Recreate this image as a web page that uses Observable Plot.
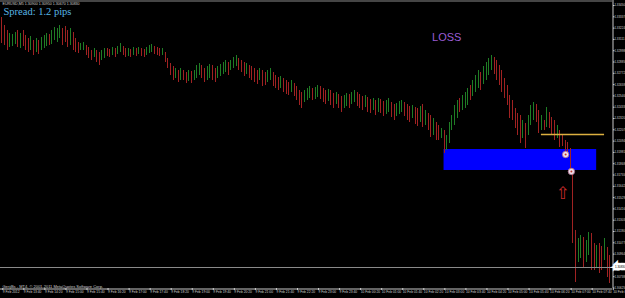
<!DOCTYPE html>
<html><head><meta charset="utf-8">
<script src="https://cdn.jsdelivr.net/npm/d3@7"></script>
<script src="https://cdn.jsdelivr.net/npm/@observablehq/plot@0.6"></script>
<style>html,body{margin:0;padding:0;background:#000;overflow:hidden}</style>
</head><body><div id="chart"></div>
<script>
const symbolLabel = "EURUSD,M5";
const lastQuote = ["1.30900", "1.30950", "1.30670", "1.30830"];
const spreadText = "Spread: 1.2 pips";
const copyrightText = "GerijBs - MT4, © 2001-2011 MetaQuotes Software Corp.";
const startTime = "2012-02-09T13:00:00Z";
const barMinutes = 5;

const highs = [
1.3333,1.3325,1.3320,1.3317,1.3316,1.3318,1.3320,1.3317,
1.3320,1.3315,1.3312,1.3314,1.3310,1.3312,1.3310,1.3313,
1.3315,1.3317,1.3316,1.3320,1.3323,1.3322,1.3325,1.3322,
1.3324,1.3320,1.3322,1.3318,1.3312,1.3308,1.3307,1.3308,
1.3305,1.3303,1.3300,1.3302,1.3300,1.3298,1.3300,1.3302,
1.3302,1.3301,1.3303,1.3302,1.3304,1.3307,1.3304,1.3302,
1.3302,1.3301,1.3303,1.3302,1.3303,1.3302,1.3301,1.3303,
1.3305,1.3306,1.3304,1.3303,1.3302,1.3302,1.3298,1.3292,
1.3287,1.3284,1.3282,1.3280,1.3282,1.3280,1.3278,1.3280,
1.3279,1.3280,1.3285,1.3287,1.3285,1.3282,1.3284,1.3286,
1.3285,1.3282,1.3284,1.3286,1.3288,1.3290,1.3288,1.3290,
1.3293,1.3295,1.3292,1.3290,1.3288,1.3287,1.3285,1.3284,
1.3282,1.3280,1.3282,1.3280,1.3278,1.3280,1.3282,1.3278,
1.3275,1.3273,1.3274,1.3272,1.3270,1.3268,1.3270,1.3267,
1.3264,1.3260,1.3258,1.3260,1.3262,1.3264,1.3262,1.3263,
1.3265,1.3264,1.3262,1.3260,1.3261,1.3260,1.3257,1.3258,
1.3256,1.3254,1.3255,1.3257,1.3256,1.3258,1.3260,1.3258,
1.3256,1.3254,1.3255,1.3253,1.3251,1.3252,1.3250,1.3252,
1.3251,1.3249,1.3250,1.3252,1.3248,1.3246,1.3247,1.3249,
1.3250,1.3248,1.3246,1.3244,1.3245,1.3243,1.3242,1.3244,
1.3246,1.3240,1.3237,1.3235,1.3232,1.3228,1.3225,1.3222,
1.3220,1.3215,1.3228,1.3235,1.3245,1.3250,1.3252,1.3255,
1.3258,1.3262,1.3265,1.3270,1.3275,1.3280,1.3278,1.3284,
1.3288,1.3292,1.3295,1.3293,1.3290,1.3285,1.3280,1.3272,
1.3265,1.3255,1.3250,1.3242,1.3237,1.3235,1.3230,1.3227,
1.3235,1.3245,1.3248,1.3246,1.3240,1.3235,1.3230,1.3243,
1.3238,1.3233,1.3230,1.3225,1.3220,1.3215,1.3210,1.3208,
1.3202,1.3182,1.3120,1.3112,1.3115,1.3113,1.3110,1.3118,
1.3117,1.3107,1.3105,1.3107,1.3104,1.3112,1.3103,1.3095];

const lows = [
1.3307,1.3305,1.3300,1.3303,1.3304,1.3306,1.3303,1.3302,
1.3304,1.3300,1.3298,1.3300,1.3295,1.3298,1.3296,1.3300,
1.3302,1.3304,1.3305,1.3306,1.3310,1.3308,1.3312,1.3305,
1.3308,1.3303,1.3305,1.3300,1.3298,1.3297,1.3300,1.3300,
1.3295,1.3292,1.3290,1.3293,1.3288,1.3285,1.3290,1.3292,
1.3294,1.3293,1.3295,1.3293,1.3296,1.3298,1.3295,1.3293,
1.3294,1.3293,1.3295,1.3294,1.3296,1.3294,1.3293,1.3295,
1.3297,1.3298,1.3296,1.3295,1.3294,1.3295,1.3288,1.3282,
1.3275,1.3270,1.3272,1.3268,1.3270,1.3270,1.3267,1.3269,
1.3267,1.3270,1.3272,1.3275,1.3272,1.3268,1.3270,1.3272,
1.3270,1.3268,1.3272,1.3274,1.3276,1.3278,1.3275,1.3280,
1.3282,1.3284,1.3280,1.3278,1.3274,1.3276,1.3272,1.3270,
1.3268,1.3266,1.3270,1.3264,1.3265,1.3268,1.3270,1.3264,
1.3262,1.3260,1.3262,1.3258,1.3256,1.3255,1.3258,1.3254,
1.3250,1.3245,1.3242,1.3248,1.3250,1.3252,1.3250,1.3251,
1.3253,1.3251,1.3248,1.3246,1.3249,1.3245,1.3242,1.3246,
1.3242,1.3238,1.3242,1.3244,1.3242,1.3246,1.3248,1.3244,
1.3242,1.3240,1.3243,1.3238,1.3237,1.3240,1.3235,1.3238,
1.3237,1.3234,1.3236,1.3238,1.3233,1.3230,1.3234,1.3236,
1.3238,1.3234,1.3230,1.3228,1.3232,1.3226,1.3224,1.3228,
1.3223,1.3225,1.3220,1.3213,1.3215,1.3210,1.3210,1.3212,
1.3197,1.3200,1.3207,1.3220,1.3225,1.3232,1.3238,1.3240,
1.3242,1.3245,1.3250,1.3254,1.3258,1.3262,1.3260,1.3266,
1.3270,1.3275,1.3280,1.3276,1.3270,1.3265,1.3258,1.3252,
1.3245,1.3232,1.3230,1.3222,1.3215,1.3207,1.3212,1.3202,
1.3215,1.3225,1.3230,1.3228,1.3217,1.3220,1.3220,1.3223,
1.3222,1.3215,1.3210,1.3212,1.3203,1.3204,1.3198,1.3195,
1.3180,1.3107,1.3068,1.3088,1.3092,1.3083,1.3088,1.3095,
1.3080,1.3080,1.3082,1.3077,1.3080,1.3090,1.3073,1.3067];

// u = up bar, d = down bar
const directions = [
"ddduuudu","dddududu","uuduuuud","dduddduu","dddudduu","dduduudd","udududdu","uudddudd",
"ddududdu","duuudduu","dduuuudu","uudddudd","ddudduud","ddudddud","ddduuudu","uddduddu",
"dduuduud","dduddudu","dduudduu","uddduddu","dudduddu","duuuuudu","uuduuudu","uuuddddd",
"ddddddud","uuuddudu","dddudddd","ddduuduu","dduddudd"].join("");

const timeTickLabels = [
"9 Feb 2012","9 Feb 13:40","9 Feb 14:20","9 Feb 15:00","9 Feb 15:40","9 Feb 16:20",
"9 Feb 17:00","9 Feb 17:40","9 Feb 18:20","9 Feb 19:00","9 Feb 19:40","9 Feb 20:20",
"9 Feb 21:00","9 Feb 21:40","9 Feb 22:20","9 Feb 23:00","9 Feb 23:40","10 Feb 00:20",
"10 Feb 01:00","10 Feb 01:40","10 Feb 02:20","10 Feb 03:00","10 Feb 03:40","10 Feb 04:20",
"10 Feb 05:00","10 Feb 05:40","10 Feb 06:20","10 Feb 07:00","10 Feb 07:40","10 Feb 08:20"];
const timeTickMinutes = 40;

// the label near the bid price is hidden behind the bid box, as in the terminal
const priceTicks = [1.33450,1.33337,1.33224,1.33111,1.32998,1.32885,1.32772,1.32659,1.32546,
1.32433,1.32320,1.32207,1.32094,1.31981,1.31868,1.31755,1.31642,1.31529,1.31416,1.31303,
1.31190,1.31077,1.30964,1.30738,1.30625];

const zone = {start: "2012-02-10T03:00:00Z", end: "2012-02-10T07:50:00Z", top: 1.3201, bottom: 1.3180};
const level = {start: "2012-02-10T06:05:00Z", end: "2012-02-10T08:05:00Z", price: 1.3216};
const trades = [{time: "2012-02-10T06:51:00Z", price: 1.3196}, {time: "2012-02-10T07:02:00Z", price: 1.3179}];
const signal = {time: "2012-02-10T06:46:00Z", price: 1.3157};
const lossNote = {text: "LOSS", time: "2012-02-10T03:05:00Z", price: 1.3313};
const bid = 1.3083;
const priceDomain = [1.3062, 1.3350];
const timeDomain = ["2012-02-09T12:57:09Z", "2012-02-10T08:20:06Z"];

const t0 = Date.parse(startTime);
const bars = highs.map((h, i) => ({
  time: new Date(t0 + i * barMinutes * 60000), high: h, low: lows[i], dir: directions[i]
}));
const tickTimes = timeTickLabels.map((_, k) => new Date(t0 + k * timeTickMinutes * 60000));
const labelByTime = new Map(tickTimes.map((t, k) => [+t, timeTickLabels[k]]));
const T = s => new Date(s);
const fmt5 = d3.format(".5f");

const chart = Plot.plot({
  width: 625, height: 298,
  marginLeft: 0, marginRight: 13, marginTop: 0, marginBottom: 10,
  style: {background: "#000", color: "#cfcfcf", fontFamily: "Liberation Sans, Arial, sans-serif"},
  x: {type: "utc", domain: timeDomain.map(T), label: null},
  y: {domain: priceDomain, label: null},
  marks: [
    Plot.rect([zone], {x1: d => T(d.start), x2: d => T(d.end), y1: "bottom", y2: "top", fill: "#0000ff"}),
    Plot.ruleX(bars, {x: "time", y1: "low", y2: "high",
      stroke: d => d.dir === "u" ? "#1f7d25" : "#a02222", strokeWidth: 1, shapeRendering: "crispEdges"}),
    Plot.ruleY([bid], {stroke: "#8a8a8a", strokeWidth: 1, shapeRendering: "crispEdges"}),
    Plot.ruleY([level], {y: "price", x1: d => T(d.start), x2: d => T(d.end), stroke: "#dcb040", strokeWidth: 1.6}),
    Plot.ruleY([priceDomain[1]], {stroke: "#8a8a8a", dy: 0.5}),
    Plot.ruleY([priceDomain[0]], {stroke: "#c8c8c8", dy: 0.5}),
    Plot.ruleX([T(timeDomain[1])], {stroke: "#c8c8c8", dx: 0.5}),
    Plot.axisX({ticks: tickTimes, tickFormat: d => labelByTime.get(+d), tickSize: 2, tickPadding: 0.5,
      textAnchor: "start", dx: 0.8, fontSize: 3.3, color: "#d0d0d0"}),
    Plot.axisY({anchor: "right", ticks: priceTicks, tickFormat: fmt5, tickSize: 1.5, tickPadding: 0.4,
      fontSize: 2.95, color: "#d0d0d0"}),
    Plot.text([bid], {y: d => d, frameAnchor: "right", dx: 2.5, textAnchor: "start", text: d => fmt5(d),
      fill: "#000", stroke: "#fff", strokeWidth: 4.5, strokeLinejoin: "miter", paintOrder: "stroke", fontSize: 2.95}),
    Plot.text([symbolLabel + " " + lastQuote.join(" ")], {frameAnchor: "top-left", dx: 2, dy: 3,
      lineAnchor: "middle", fontSize: 3.6, fill: "#d0d0d0"}),
    Plot.text([spreadText], {frameAnchor: "top-left", dx: 3, dy: 11, lineAnchor: "middle",
      fontSize: 10.5, fontFamily: "Liberation Serif, Times New Roman, serif", fill: "#58b6e6"}),
    Plot.text([copyrightText], {frameAnchor: "bottom-left", dx: 2, dy: -2, lineAnchor: "middle",
      fontSize: 4, fill: "#d0d0d0"}),
    Plot.text([lossNote], {x: d => T(d.time), y: "price", text: "text", fill: "#9a5cd4", fontSize: 11}),
    Plot.dot(trades, {x: d => T(d.time), y: "price", r: 3.2, fill: "#ecdfea", stroke: "#a86a8a", strokeWidth: 0.8}),
    Plot.dot(trades, {x: d => T(d.time), y: "price", r: 1, fill: "#c0392b"}),
    Plot.text([signal], {x: d => T(d.time), y: "price", text: () => "⇧", fill: "#c42a2a",
      fontSize: 17, fontFamily: "DejaVu Sans"})
  ]
});
document.getElementById("chart").append(chart);
</script>
</body></html>
